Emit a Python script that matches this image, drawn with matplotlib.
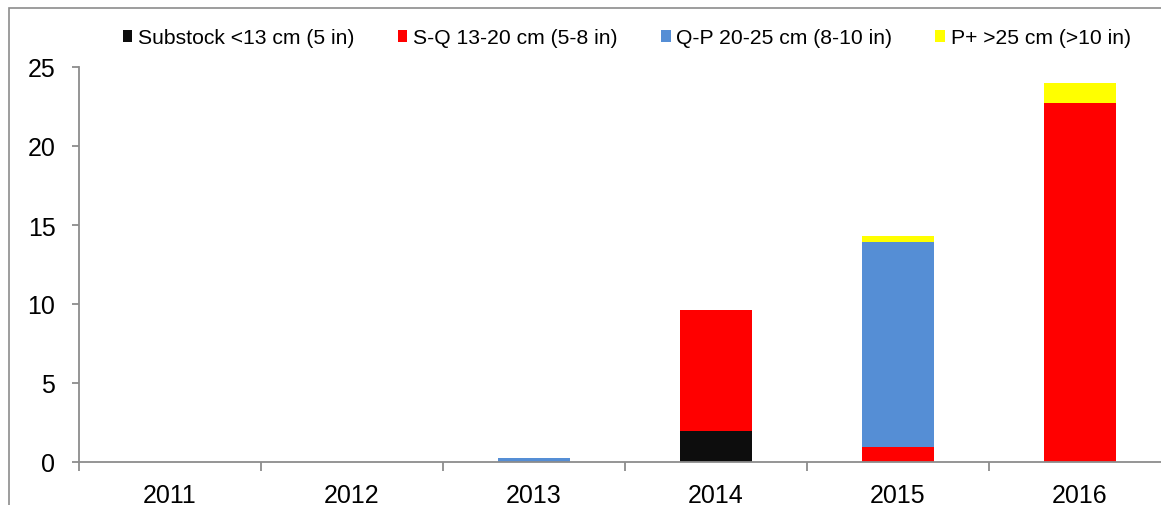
import matplotlib
matplotlib.use("Agg")
import matplotlib.pyplot as plt
import numpy as np
from matplotlib.patches import Rectangle

plt.rcParams['font.family'] = ['Liberation Sans', 'DejaVu Sans']

years = ['2011', '2012', '2013', '2014', '2015', '2016']
series_names = ['Substock <13 cm (5 in)', 'S-Q 13-20 cm (5-8 in)',
                'Q-P 20-25 cm (8-10 in)', 'P+ >25 cm (>10 in)']
substock = [0, 0, 0, 1.95, 0, 0]
s_q = [0, 0, 0, 7.7, 0.95, 22.7]
q_p = [0, 0, 0.25, 0, 13.0, 0]
p_plus = [0, 0, 0, 0, 0.33, 1.3]
colors = ['#0d0d0d', '#ff0000', '#558ed5', '#ffff00']

W, H = 1161, 506
fig = plt.figure(figsize=(W / 100, H / 100), dpi=100)
ax = fig.add_axes([79 / W, 43 / H, 1092 / W, 395 / H])

x = np.arange(len(years))
bottom = np.zeros(len(years))
handles = []
for vals, name, col in zip([substock, s_q, q_p, p_plus], series_names, colors):
    v = np.array(vals, dtype=float)
    b = ax.bar(x, v, 0.4, bottom=bottom, color=col, label=name, linewidth=0)
    handles.append(b)
    bottom += v

ax.set_xlim(-0.5, 5.5)
ax.set_ylim(0, 25)
ax.set_yticks([0, 5, 10, 15, 20, 25])
ax.set_xticks(x)
ax.set_xticklabels(years)
ax.set_xticks(np.arange(-0.5, 6.0, 1.0), minor=True)

grey = '#8c8c8c'
for s in ['top', 'right']:
    ax.spines[s].set_visible(False)
for s in ['left', 'bottom']:
    ax.spines[s].set_color(grey)
    ax.spines[s].set_linewidth(1.3)

ax.tick_params(axis='y', direction='out', length=5, width=1.3, color=grey,
               labelsize=18, pad=12)
ax.tick_params(axis='x', which='major', length=0, labelsize=18, pad=15)
ax.tick_params(axis='x', which='minor', direction='out', length=6.5, width=1.3,
               color=grey)

leg = fig.legend(handles=handles, labels=series_names, loc='center left',
                 bbox_to_anchor=(122.5 / W, 1 - 39 / H), bbox_transform=fig.transFigure,
                 ncol=4, frameon=False, fontsize=15.2, handlelength=0.47,
                 handleheight=0.47, handletextpad=0.25, columnspacing=2.06,
                 borderpad=0, borderaxespad=0)

# outer chart border
fig.add_artist(Rectangle((9 / W, -0.1), 1.2, 1.1 - 9 / H, transform=fig.transFigure,
                         fill=False, edgecolor='#8c8c8c', linewidth=1.2))

fig.savefig('out.png', dpi=100)
